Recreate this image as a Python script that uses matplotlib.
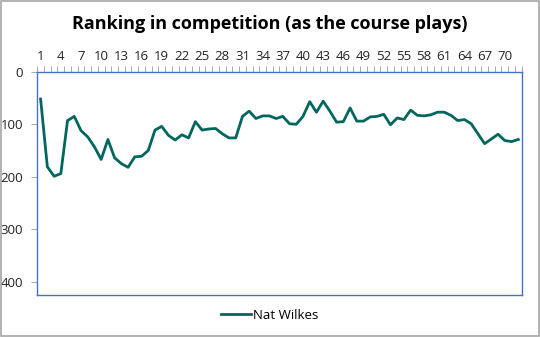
import numpy as np
import matplotlib
matplotlib.use("Agg")
import matplotlib.pyplot as plt
from matplotlib.ticker import FixedLocator

plt.rcParams["font.family"] = ["Open Sans", "DejaVu Sans"]

# ranking after each hole played
holes = list(range(1, 73))
ranking = [52, 181, 199, 194, 93, 85, 112, 124, 143, 167,
           129, 164, 175, 182, 162, 161, 150, 111, 104, 121,
           130, 120, 126, 95, 111, 109, 108, 118, 126, 126,
           85, 75, 89, 84, 84, 89, 85, 99, 100, 85,
           57, 77, 56, 75, 96, 95, 69, 94, 94, 86,
           85, 81, 101, 88, 91, 73, 83, 84, 82, 77,
           77, 83, 93, 91, 99, 118, 137, 128, 119, 131,
           133, 129]
label_holes = list(range(1, 73, 3))
player = "Nat Wilkes"

fig = plt.figure(figsize=(5.4, 3.37), dpi=100)
ax = fig.add_axes([0.069, 0.125, 0.897, 0.662])

ax.plot(holes, ranking, color="#00665E", linewidth=2.0, label=player)

ax.set_xlim(0.5, 72.5)
ax.set_ylim(425, 0)
ax.set_yticks([0, 100, 200, 300, 400])

ax.xaxis.tick_top()
ax.set_xticks(label_holes)
ax.xaxis.set_minor_locator(FixedLocator(np.arange(0.5, 73, 1)))
ax.tick_params(axis="x", which="major", length=0, pad=6, labelsize=9.5, colors="#222222")
ax.tick_params(axis="x", which="minor", length=4, width=0.7, color="#AAAAAA", direction="out")
ax.tick_params(axis="y", length=4, width=0.7, color="#AAAAAA", labelsize=9.5, labelcolor="#222222", pad=6)

for side in ["left", "right", "bottom", "top"]:
    ax.spines[side].set_color("#4472C4")
    ax.spines[side].set_linewidth(1.0)

fig.text(0.5, 0.93, "Ranking in competition (as the course plays)",
         ha="center", va="center", fontsize=13, fontweight="bold", color="black")

fig.legend(loc="center", bbox_to_anchor=(0.5, 0.065), frameon=False,
           fontsize=9.5, handlelength=2.2, handletextpad=0.2)

# outer frame of the chart
fig.patches.append(plt.Rectangle((0.001, 0.002), 0.997, 0.995, transform=fig.transFigure,
                                 fill=False, edgecolor="#A6A6A6", linewidth=1.2))

fig.savefig("out.png", dpi=100)
